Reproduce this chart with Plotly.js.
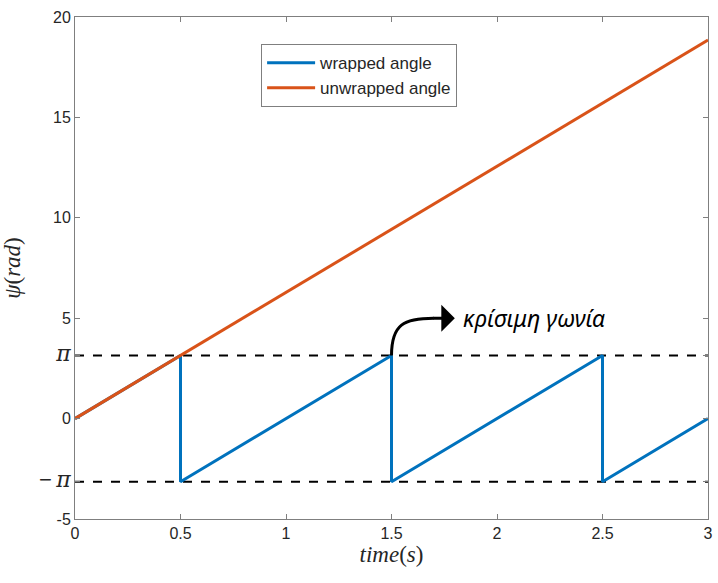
<!DOCTYPE html>
<html><head><meta charset="utf-8">
<script src="https://cdn.plot.ly/plotly-3.0.1.min.js"></script>
<style>body{margin:0;background:#fff}#plot{width:718px;height:583px}</style>
</head><body><div id="plot"></div>
<script>
const PI = Math.PI;
const unwrapT = [0, 3];
const unwrapPsi = [0, 18.85];
const wrapT = [0, 0.5, 0.5, 1.5, 1.5, 2.5, 2.5, 3];
const wrapPsi = [0, PI, -PI, PI, -PI, PI, -PI, 0];
const limT = [0, 3];
const piLabel = '<span style="font-family:DejaVu Serif;font-size:22px"><i>π</i></span>';
const yTickVals = [-5, -PI, 0, PI, 5, 10, 15, 20];
const yTickText = ['-5', '<span style="font-size:22px">−</span> ' + piLabel, '0', piLabel, '5', '10', '15', '20'];
const xTickVals = [0, 0.5, 1, 1.5, 2, 2.5, 3];
const xTickText = ['0', '0.5', '1', '1.5', '2', '2.5', '3'];
const noteText = 'κρίσιμη γωνία';

const axisColor = '#7f7f7f';
const traces = [
  {x: limT, y: [PI, PI], mode: 'lines', line: {color: '#000', width: 2, dash: 'dash'}, showlegend: false, hoverinfo: 'skip'},
  {x: limT, y: [-PI, -PI], mode: 'lines', line: {color: '#000', width: 2, dash: 'dash'}, showlegend: false, hoverinfo: 'skip'},
  {x: wrapT, y: wrapPsi, mode: 'lines', name: 'wrapped angle', line: {color: '#0072BD', width: 3}},
  {x: unwrapT, y: unwrapPsi, mode: 'lines', name: 'unwrapped angle', line: {color: '#D95319', width: 3}}
];
const layout = {
  width: 718, height: 583,
  margin: {l: 75, r: 10, t: 17, b: 64},
  paper_bgcolor: '#fff', plot_bgcolor: '#fff',
  font: {family: 'Liberation Sans, Arial, sans-serif', size: 16, color: '#262626'},
  xaxis: {range: [0, 3], tickvals: xTickVals, ticktext: xTickText, ticks: 'inside', ticklen: 5,
    tickcolor: axisColor, showline: true, linecolor: axisColor, linewidth: 1, mirror: 'ticks',
    showgrid: false, zeroline: false,
    title: {text: '<i>time</i>(<i>s</i>)', font: {family: 'Liberation Serif, serif', size: 23, color: '#262626'}, standoff: 4}},
  yaxis: {range: [-5, 20], tickvals: yTickVals, ticktext: yTickText, ticks: 'inside', ticklen: 5,
    tickcolor: axisColor, showline: true, linecolor: axisColor, linewidth: 1, mirror: 'ticks',
    showgrid: false, zeroline: false,
    title: {text: '<i>ψ</i>(<i>rad</i>)', font: {family: 'Liberation Serif, serif', size: 23, color: '#262626'}, standoff: 12}},
  legend: {x: 0.294, y: 0.946, xanchor: 'left', yanchor: 'top', bgcolor: '#fff', bordercolor: axisColor, borderwidth: 1,
    font: {size: 17, color: '#262626'}, tracegroupgap: 0, itemwidth: 48},
  shapes: [
    {type: 'path', xref: 'x', yref: 'y', path: 'M 1.5 3.1416 C 1.5 4.7, 1.56 5.0, 1.7 5.0', line: {color: '#000', width: 3}}
  ],
  annotations: [
    {x: 1.8, y: 5.0, ax: 1.69, ay: 5.0, axref: 'x', ayref: 'y', xref: 'x', yref: 'y', text: '', showarrow: true,
      arrowhead: 1, arrowsize: 1.5, arrowwidth: 3, arrowcolor: '#000'},
    {x: 1.83, y: 5.0, xref: 'x', yref: 'y', xanchor: 'left', yanchor: 'middle', text: '<i>' + noteText + '</i>', showarrow: false,
      font: {family: 'Noto Sans, sans-serif', size: 23, color: '#000'}}
  ]
};
Plotly.newPlot('plot', traces, layout, {displayModeBar: false, staticPlot: true});
</script></body></html>
